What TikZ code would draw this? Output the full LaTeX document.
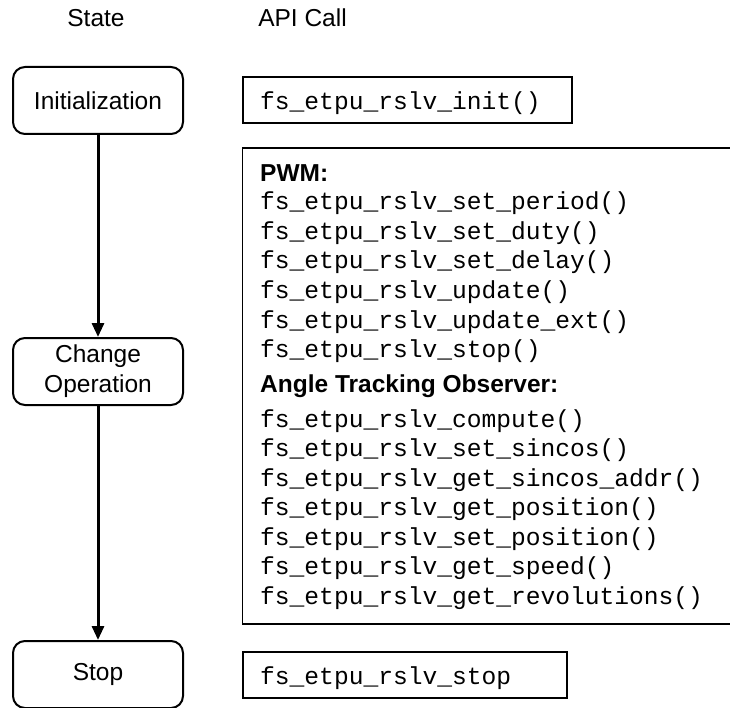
\documentclass[tikz,border=0pt]{standalone}
\usepackage{fontspec}
\setmainfont{Liberation Sans}
\newfontfamily\monofam{Liberation Mono}
\usetikzlibrary{arrows.meta}
\tikzset{
  statebox/.style={draw, line width=2pt, rounded corners=12pt, inner sep=0pt,
    minimum width=170pt, minimum height=67pt, align=center,
    font=\fontsize{24.5}{30}\selectfont},
  apibox/.style={draw, line width=1.3pt, inner sep=0pt},
  hdr/.style={inner sep=0pt, anchor=base, font=\fontsize{24.5}{30}\selectfont},
  code/.style={inner sep=0pt, anchor=base west, font=\fontsize{24.6}{30}\monofam},
  grp/.style={inner sep=0pt, anchor=base west, font=\fontsize{24.5}{30}\bfseries},
  flow/.style={line width=3pt, -{Triangle[length=14pt,width=12pt]}}
}
\begin{document}
\begin{tikzpicture}[x=1pt,y=-1pt]
\useasboundingbox (0,0) rectangle (730,708);
\clip (0,0) rectangle (730,708);
% headers
\node[hdr] (hstate) at (96,27) {State};
\node[hdr] (hapi) at (302.5,27) {API Call};
% states
\node[statebox] (init) at (98,100.5) {Initialization};
\node[statebox] (change) at (98,371.5) {Change\\Operation};
\node[statebox] (stop) at (98,674.5) {Stop};
\draw[flow] (init.south) -- (change.north);
\draw[flow] (change.south) -- (stop.north);
% API boxes
\node[apibox, minimum width=329pt, minimum height=46pt] (initapi) at (407.5,100) {};
\node[code] (tinit) at (260,110) {fs\_etpu\_rslv\_init()};
\node[apibox, minimum width=520pt, minimum height=476pt] (opsapi) at (502.5,386) {};
\node[grp] (pwm) at (260,182) {PWM:};
\node[code] (p1) at (260,210) {fs\_etpu\_rslv\_set\_period()};
\node[code] (p2) at (260,239.5) {fs\_etpu\_rslv\_set\_duty()};
\node[code] (p3) at (260,269) {fs\_etpu\_rslv\_set\_delay()};
\node[code] (p4) at (260,298.5) {fs\_etpu\_rslv\_update()};
\node[code] (p5) at (260,328) {fs\_etpu\_rslv\_update\_ext()};
\node[code] (p6) at (260,357.5) {fs\_etpu\_rslv\_stop()};
\node[grp] (ato) at (260,392) {Angle Tracking Observer:};
\node[code] (a1) at (260,427) {fs\_etpu\_rslv\_compute()};
\node[code] (a2) at (260,456.5) {fs\_etpu\_rslv\_set\_sincos()};
\node[code] (a3) at (260,486) {fs\_etpu\_rslv\_get\_sincos\_addr()};
\node[code] (a4) at (260,515.5) {fs\_etpu\_rslv\_get\_position()};
\node[code] (a5) at (260,545) {fs\_etpu\_rslv\_set\_position()};
\node[code] (a6) at (260,574.5) {fs\_etpu\_rslv\_get\_speed()};
\node[code] (a7) at (260,604) {fs\_etpu\_rslv\_get\_revolutions()};
\node[apibox, minimum width=324pt, minimum height=46pt] (stopapi) at (405,675) {};
\node[code] (tstop) at (260,684) {fs\_etpu\_rslv\_stop};
\end{tikzpicture}
\end{document}
